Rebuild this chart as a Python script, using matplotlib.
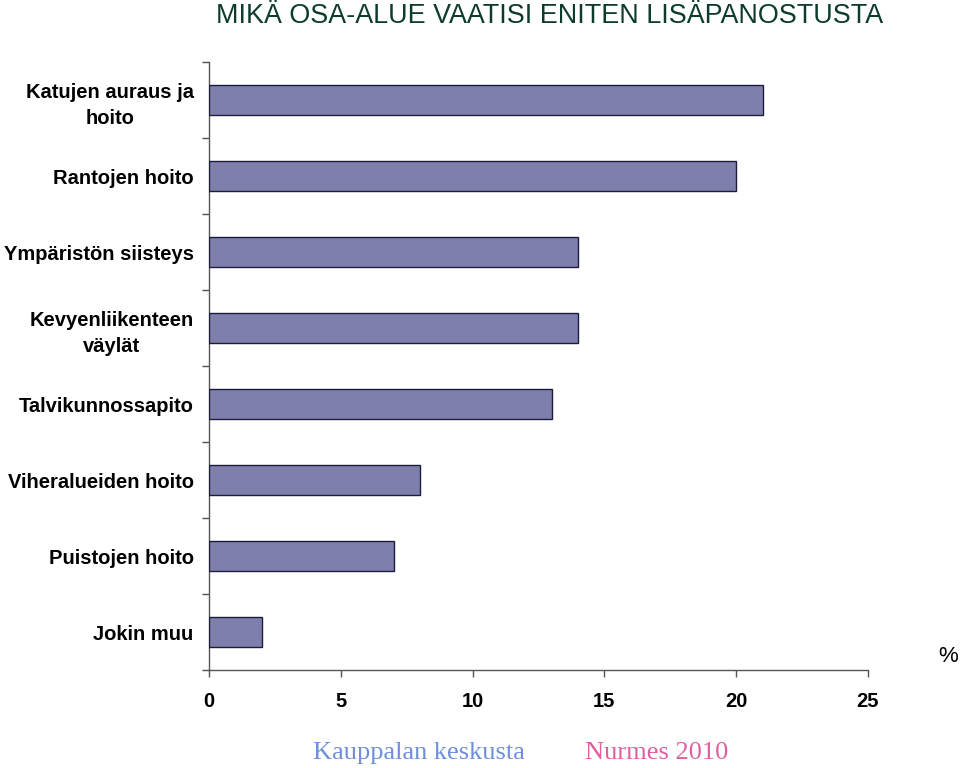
import matplotlib
matplotlib.use("Agg")
import matplotlib.pyplot as plt
import numpy as np

categories = ["Katujen auraus ja\nhoito", "Rantojen hoito", "Ympäristön siisteys",
              "Kevyenliikenteen\nväylät", "Talvikunnossapito", "Viheralueiden hoito",
              "Puistojen hoito", "Jokin muu"]
values = [21, 20, 14, 14, 13, 8, 7, 2]
xticks = [0, 5, 10, 15, 20, 25]

fig = plt.figure(figsize=(9.6, 7.68), dpi=100)
ax = fig.add_axes([209/960, 1-670/768, (868-209)/960, (670-62)/768])

n = len(categories)
pos = np.arange(n)[::-1]
ax.barh(pos, values, height=0.4, color="#7F7FAD", edgecolor="#1c1c3c", linewidth=1.0, zorder=3)

ax.set_xlim(0, 25)
ax.set_ylim(-0.5, n-0.5)
ax.set_xticks(xticks)
ax.set_xticklabels([str(t) for t in xticks], fontsize=14.5, fontweight="bold", family="Liberation Sans")
ax.tick_params(axis="x", direction="out", length=5, width=1, color="#555555", pad=11)

ax.set_yticks(pos)
ax.set_yticklabels(categories, fontsize=14.5, fontweight="bold", family="Liberation Sans",
                   multialignment="center", linespacing=1.45)
ax.tick_params(axis="y", length=0, pad=11)
ax.set_yticks(np.arange(-0.5, n, 1.0), minor=True)
ax.tick_params(axis="y", which="minor", direction="out", length=5, width=1, color="#555555")

for s in ["top", "right"]:
    ax.spines[s].set_visible(False)
for s in ["left", "bottom"]:
    ax.spines[s].set_color("#555555")
    ax.spines[s].set_linewidth(1)

fig.text(550/960, 1-16/768, "MIKÄ OSA-ALUE VAATISI ENITEN LISÄPANOSTUSTA",
         ha="center", va="center", fontsize=19.4, color="#0d3b2e", family="Liberation Sans")
fig.text(948/960, 1-657/768, "%", ha="center", va="center", fontsize=16,
         family="Liberation Sans", color="black")
fig.text(419/960, 1-753/768, "Kauppalan keskusta", ha="center", va="center", fontsize=19,
         family="Liberation Serif", color="#6f8fdc")
fig.text(657/960, 1-753/768, "Nurmes 2010", ha="center", va="center", fontsize=19,
         family="Liberation Serif", color="#e0609f")

fig.savefig("out.png", dpi=100)
